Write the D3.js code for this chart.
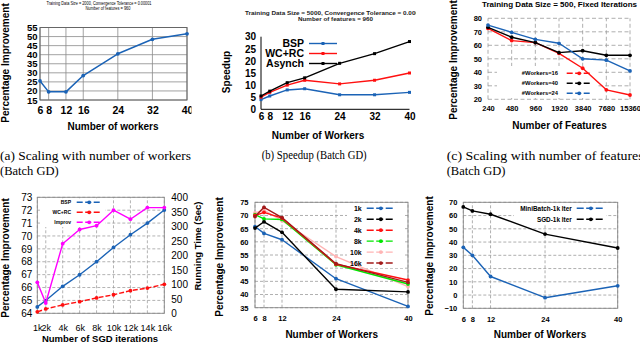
<!DOCTYPE html>
<html><head><meta charset="utf-8">
<script src="https://cdn.jsdelivr.net/npm/d3@7"></script>
<style>
html,body{margin:0;padding:0;background:#fff;}
svg{display:block;}
</style></head><body>
<svg id="c" width="640" height="342"></svg>
<script>
// ---------------- DATA ----------------
// (a) Scaling with number of workers
const workersA = [6, 8, 12, 16, 24, 32, 40];
const improvementA = [25.5, 19.5, 19.5, 28.5, 40.5, 48.5, 51.5];
const yTicksA = [15, 20, 25, 30, 35, 40, 45, 50, 55];

// (b) Speedup
const workersB = [6, 8, 12, 16, 24, 32, 40];
const speedupBSP = [4, 5.5, 8, 8.5, 6, 6, 7];
const speedupWCRC = [5, 7, 10, 12, 10.5, 12, 15];
const speedupAsynch = [5.5, 7.5, 11, 13, 19, 23, 28];
const yTicksB = [0, 5, 10, 15, 20, 25, 30];

// (c) Scaling with number of features
const featuresC = [240, 480, 960, 1920, 3840, 7680, 15360];
const improvW16 = [72.5, 63.5, 62, 54, 43, 27, 23.2];
const improvW40 = [73.3, 66, 62, 54.6, 56, 52.6, 52.6];
const improvW24 = [75, 69.6, 64.4, 61.5, 50, 49, 41];
const yTicksC = [20, 30, 40, 50, 60, 70, 80];

// (d) SGD iterations
const itersD = [1, 2, 4, 6, 8, 10, 12, 14, 16];
const iterLabelsD = ["1k", "2k", "4k", "6k", "8k", "10k", "12k", "14k", "16k"];
const timeBSP = [22, 44, 93, 133, 178, 227, 271, 311, 356];
const timeWCRC = [5, 15, 29, 40, 53, 64, 78, 87, 100];
const improvD = [66.4, 64.8, 69.4, 70.5, 70.8, 72.0, 71.3, 72.2, 72.2];
const yTicksDLeft = [64, 65, 66, 67, 68, 69, 70, 71, 72, 73];
const yTicksDRight = [0, 50, 100, 150, 200, 250, 300, 350, 400];

// (e) Percentage improvement by iterations
const workersE = [6, 8, 12, 24, 40];
const impE1k = [65.8, 63.2, 60.8, 46, 35.5];
const impE2k = [65.2, 67.6, 63.6, 42, 41];
const impE4k = [70, 71.2, 69, 51.5, 45.5];
const impE8k = [70.3, 68.7, 68.5, 51.3, 44];
const impE10k = [71, 72, 68, 54.4, 43];
const impE16k = [69.6, 73.1, 69.2, 51.7, 44.6];
const seriesLabelsE = ["1k", "2k", "4k", "8k", "10k", "16k"];
const yTicksE = [35, 40, 45, 50, 55, 60, 65, 70, 75];

// (f) MiniBatch vs SGD
const workersF = [6, 8, 12, 24, 40];
const miniBatchF = [36, 30, 14, -2, 7];
const sgdF = [66.5, 63.5, 61, 46, 35.5];
const yTicksF = [-10, 0, 10, 20, 30, 40, 50, 60, 70];

// ---------------- HELPERS ----------------
const SANS = "'Liberation Sans', Arial, Helvetica, sans-serif";
const SERIF = "'Liberation Serif', 'Times New Roman', serif";
const BLUE = "#1b63b6", RED = "#ff1010", BLACK = "#000", MAG = "#ff00ff",
      GREEN = "#00e600", PINK = "#ffb4b4", DRED = "#a31a1a";

const svg = d3.select("#c");
svg.append("rect").attr("width", 640).attr("height", 342).attr("fill", "#fff");
const defs = svg.append("defs");
function clip(id, x, y, w, h) {
  defs.append("clipPath").attr("id", id).append("rect")
    .attr("x", x).attr("y", y).attr("width", w).attr("height", h);
}

function styleAxis(g, size, weight) {
  g.select(".domain").remove();
  g.selectAll(".tick line").remove();
  g.attr("font-family", null).attr("font-size", null);
  g.selectAll("text").attr("font-family", SANS).attr("font-size", size)
    .attr("font-weight", weight).attr("fill", "#000");
}
function axisL(p, y, x0, vals, pad, size, weight, fmt) {
  const g = p.append("g").attr("transform", `translate(${x0},0)`)
    .call(d3.axisLeft(y).tickValues(vals).tickSize(0).tickPadding(pad).tickFormat(fmt || d3.format("d")));
  styleAxis(g, size, weight); return g;
}
function axisR(p, y, x0, vals, pad, size, weight, fmt) {
  const g = p.append("g").attr("transform", `translate(${x0},0)`)
    .call(d3.axisRight(y).tickValues(vals).tickSize(0).tickPadding(pad).tickFormat(fmt || d3.format("d")));
  styleAxis(g, size, weight); return g;
}
function axisB(p, x, y0, vals, pad, size, weight, fmt) {
  const g = p.append("g").attr("transform", `translate(0,${y0})`)
    .call(d3.axisBottom(x).tickValues(vals).tickSize(0).tickPadding(pad).tickFormat(fmt || d3.format("d")));
  styleAxis(g, size, weight); return g;
}
function grid(p, x, y, xv, yv, stroke, dash, w) {
  const xr = x.range(), yr = y.range();
  const g = p.append("g").attr("stroke", stroke).attr("stroke-width", w)
    .attr("stroke-dasharray", dash || null).attr("fill", "none");
  g.selectAll("line.v").data(xv).join("line").attr("class", "v")
    .attr("x1", d => x(d)).attr("x2", d => x(d)).attr("y1", yr[0]).attr("y2", yr[1]);
  g.selectAll("line.h").data(yv).join("line").attr("class", "h")
    .attr("y1", d => y(d)).attr("y2", d => y(d)).attr("x1", xr[0]).attr("x2", xr[1]);
}
function frame(p, x, y, stroke, w) {
  const xr = x.range(), yr = y.range();
  p.append("rect").attr("x", xr[0]).attr("y", yr[1]).attr("width", xr[1] - xr[0])
    .attr("height", yr[0] - yr[1]).attr("fill", "none").attr("stroke", stroke).attr("stroke-width", w);
}
function series(p, x, y, xs, ys, color, opt) {
  opt = opt || {};
  const pts = xs.map((d, i) => [x(d), y(ys[i])]);
  p.append("path").attr("d", d3.line()(pts)).attr("fill", "none").attr("stroke", color)
    .attr("stroke-width", opt.w || 1.4).attr("stroke-dasharray", opt.dash || null)
    .attr("stroke-linejoin", "round");
  if (opt.square) {
    p.append("g").selectAll("rect").data(pts).join("rect")
      .attr("x", d => d[0] - 1.5).attr("y", d => d[1] - 1.5).attr("width", 3).attr("height", 3).attr("fill", color);
  } else {
    p.append("g").selectAll("circle").data(pts).join("circle")
      .attr("cx", d => d[0]).attr("cy", d => d[1]).attr("r", opt.r || 1.9).attr("fill", color);
  }
}
function txt(p, x, y, s, size, weight, opt) {
  opt = opt || {};
  const t = p.append("text").attr("x", x).attr("y", y).text(s)
    .attr("font-family", opt.family || SANS).attr("font-size", size)
    .attr("font-weight", weight).attr("fill", opt.fill || "#000")
    .attr("text-anchor", opt.anchor || "start");
  if (opt.rot) t.attr("transform", `rotate(${opt.rot},${x},${y})`);
  if (opt.len) t.attr("textLength", opt.len).attr("lengthAdjust", "spacingAndGlyphs");
  return t;
}
function legendItem(p, tx, lx0, lx1, yc, label, color, size, dash, square) {
  txt(p, tx, yc + size * 0.36, label, size, "bold", { anchor: "end" });
  p.append("line").attr("x1", lx0).attr("x2", lx1).attr("y1", yc).attr("y2", yc)
    .attr("stroke", color).attr("stroke-width", 1.4).attr("stroke-dasharray", dash || null);
  const mx = (lx0 + lx1) / 2;
  if (square) p.append("rect").attr("x", mx - 1.5).attr("y", yc - 1.5).attr("width", 3).attr("height", 3).attr("fill", color);
  else p.append("circle").attr("cx", mx).attr("cy", yc).attr("r", 1.9).attr("fill", color);
}

// ---------------- (a) ----------------
clip("clipA", 0, 0, 191.5, 135);
{
  const p = svg.append("g").attr("clip-path", "url(#clipA)");
  const x = d3.scaleLinear().domain([6, 40]).range([40, 187]);
  const y = d3.scaleLinear().domain([15, 55]).range([100, 27.5]);
  grid(p, x, y, workersA, yTicksA, "#8a8a8a", null, 0.8);
  frame(p, x, y, "#666", 1);
  series(p, x, y, workersA, improvementA, BLUE, { w: 1.5 });
  axisL(p, y, 40, yTicksA, 2.5, 9.5, "bold");
  axisB(p, x, 100, workersA, 6.5, 10.5, "bold");
  txt(p, 99, 4.8, "Training Data Size = 2000, Convergence Tolerance = 0.00001", 4.6, "normal", { anchor: "middle", len: 105 });
  txt(p, 108, 9.6, "Number of features = 960", 4.6, "normal", { anchor: "middle", len: 45 });
  txt(p, 113, 129.5, "Number of workers", 10, "bold", { anchor: "middle" });
}
txt(svg, 8.8, 63, "Percentage Improvement", 10, "bold", { anchor: "middle", rot: -90 });
txt(svg, 0, 159.5, "(a) Scaling with number of workers", 12.5, "normal", { family: SERIF, len: 191 });
txt(svg, 0, 175, "(Batch GD)", 12.5, "normal", { family: SERIF });

// ---------------- (b) ----------------
clip("clipB", 210, 0, 206, 145);
{
  const p = svg.append("g");
  const x = d3.scaleLinear().domain([6, 40]).range([261, 409.5]);
  const y = d3.scaleLinear().domain([0, 30]).range([109.3, 36.7]);
  p.append("line").attr("x1", 261).attr("x2", 261).attr("y1", y(30)).attr("y2", y(0)).attr("stroke", "#000").attr("stroke-width", 1);
  p.append("line").attr("x1", 261).attr("x2", 409.5).attr("y1", y(0)).attr("y2", y(0)).attr("stroke", "#000").attr("stroke-width", 1);
  series(p, x, y, workersB, speedupBSP, BLUE, { square: true });
  series(p, x, y, workersB, speedupWCRC, RED, { square: true });
  series(p, x, y, workersB, speedupAsynch, BLACK, { square: true });
  axisL(p, y, 261, yTicksB, 5, 10, "bold");
  axisB(p, x, 109.3, workersB, 4, 10, "bold");
  legendItem(p, 304, 309, 337, 43.5, "BSP", BLUE, 10.5, null, true);
  legendItem(p, 304, 309, 337, 53.5, "WC+RC", RED, 10.5, null, true);
  legendItem(p, 304, 309, 337, 63.5, "Asynch", BLACK, 10.5, null, true);
  const t = svg.append("g").attr("clip-path", "url(#clipB)");
  txt(t, 335.5, 14.5, "Training Data Size = 5000, Convergence Tolerance = 0.00001", 5.8, "bold", { anchor: "middle", len: 181, fill: "#222" });
  txt(t, 335.5, 20.5, "Number of features = 960", 5.8, "bold", { anchor: "middle", len: 75, fill: "#222" });
  txt(p, 229.5, 72, "Speedup", 10, "bold", { anchor: "middle", rot: -90 });
  txt(p, 318, 139, "Number of Workers", 10, "bold", { anchor: "middle" });
}
txt(svg, 261.7, 158.5, "(b) Speedup (Batch GD)", 12.5, "normal", { family: SERIF, len: 105 });

// ---------------- (c) ----------------
{
  const p = svg.append("g");
  const x = d3.scaleLog().base(2).domain([240, 15360]).range([488, 630]);
  const y = d3.scaleLinear().domain([20, 80]).range([99.3, 18.3]);
  grid(p, x, y, featuresC, yTicksC, "#9a9a9a", "4,2.5", 0.8);
  p.append("rect").attr("x", 497).attr("y", 66).attr("width", 99).attr("height", 32).attr("fill", "#fff");
  series(p, x, y, featuresC, improvW16, RED);
  series(p, x, y, featuresC, improvW40, BLACK);
  series(p, x, y, featuresC, improvW24, BLUE);
  axisL(p, y, 488, yTicksC, 6, 7.5, "bold");
  axisB(p, x, 99.3, featuresC, 6.5, 7.5, "bold");
  legendItem(p, 558, 566.7, 591.7, 73.3, "#Workers=16", RED, 5.8, "6,2.5");
  legendItem(p, 558, 566.7, 591.7, 83.3, "#Workers=40", BLACK, 5.8, "6,2.5");
  legendItem(p, 558, 566.7, 591.7, 93.3, "#Workers=24", BLUE, 5.8, "6,2.5");
  txt(p, 482, 6.5, "Training Data Size = 500, Fixed Iterations", 7, "bold", { len: 155 });
  txt(p, 456.5, 60, "Percentage Improvement", 10, "bold", { anchor: "middle", rot: -90 });
  txt(p, 559.5, 129, "Number of Features", 10, "bold", { anchor: "middle" });
}
txt(svg, 446.7, 159.5, "(c) Scaling with number of features", 12.5, "normal", { family: SERIF, len: 197 });
txt(svg, 446.7, 175, "(Batch GD)", 12.5, "normal", { family: SERIF });

// ---------------- (d) ----------------
{
  const p = svg.append("g");
  const x = d3.scaleLinear().domain([1, 16]).range([37.3, 164.3]);
  const y = d3.scaleLinear().domain([64, 73]).range([313.3, 197.3]);
  const y2 = d3.scaleLinear().domain([0, 400]).range([313.3, 197.3]);
  grid(p, x, y, itersD, yTicksDLeft, "#a0a0a0", "3,2", 0.8);
  p.append("rect").attr("x", 40).attr("y", 199).attr("width", 65).attr("height", 28).attr("fill", "#fff");
  frame(p, x, y, "#888", 0.9);
  series(p, x, y2, itersD, timeWCRC, RED, { dash: "5,2" });
  series(p, x, y2, itersD, timeBSP, BLUE);
  series(p, x, y, itersD, improvD, MAG);
  axisL(p, y, 37.3, yTicksDLeft, 5, 10, "normal");
  axisR(p, y2, 164.3, yTicksDRight, 7, 10, "normal");
  axisB(p, x, 313.3, itersD, 11, 9, "normal", (d, i) => iterLabelsD[i]);
  legendItem(p, 71, 76.7, 101.7, 202.3, "BSP", BLUE, 5, "6,2.5");
  legendItem(p, 71, 76.7, 101.7, 212.3, "WC+RC", RED, 5, "6,2.5");
  legendItem(p, 71, 76.7, 101.7, 222.3, "Improv", MAG, 5, "6,2.5");
  txt(p, 8.5, 258, "Percentage Improvement", 10, "bold", { anchor: "middle", rot: -90 });
  txt(p, 200.5, 246, "Running Time (Sec)", 9.5, "bold", { anchor: "middle", rot: -90 });
  txt(p, 100, 341.5, "Number of SGD iterations", 9.5, "bold", { anchor: "middle" });
}

// ---------------- (e) ----------------
{
  const p = svg.append("g");
  const x = d3.scaleLinear().domain([6, 40]).range([255, 408]);
  const y = d3.scaleLinear().domain([35, 75]).range([307.7, 202.3]);
  grid(p, x, y, workersE, yTicksE, "#9a9a9a", "3,2", 0.8);
  p.append("rect").attr("x", 347).attr("y", 203).attr("width", 56).attr("height", 65).attr("fill", "#fff");
  frame(p, x, y, "#888", 0.9);
  const sE = [impE1k, impE2k, impE4k, impE8k, impE10k, impE16k];
  const cE = [BLUE, BLACK, RED, GREEN, PINK, DRED];
  [4, 3, 2, 0, 1, 5].forEach(i => series(p, x, y, workersE, sE[i], cE[i]));
  axisL(p, y, 255, yTicksE, 6.5, 7.5, "bold");
  axisB(p, x, 307.7, workersE, 8, 7.5, "bold");
  seriesLabelsE.forEach((lab, i) => legendItem(p, 361.7, 366.7, 395, 208.3 + i * 10.95, lab, cE[i], 7, "7,2.5"));
  txt(p, 223, 257, "Percentage Improvement", 10, "bold", { anchor: "middle", rot: -90 });
  txt(p, 331.7, 338, "Number of Workers", 10, "bold", { anchor: "middle" });
}

// ---------------- (f) ----------------
{
  const p = svg.append("g");
  const x = d3.scaleLinear().domain([6, 40]).range([463.3, 617.7]);
  const y = d3.scaleLinear().domain([-10, 70]).range([308.3, 202.3]);
  grid(p, x, y, workersF, yTicksF, "#9a9a9a", "3,2", 0.8);
  p.append("rect").attr("x", 514).attr("y", 203).attr("width", 92).attr("height", 22).attr("fill", "#fff");
  frame(p, x, y, "#888", 0.9);
  series(p, x, y, workersF, miniBatchF, BLUE);
  series(p, x, y, workersF, sgdF, BLACK);
  axisL(p, y, 463.3, yTicksF, 6, 7.5, "bold");
  axisB(p, x, 308.3, workersF, 8, 7.5, "bold");
  legendItem(p, 571.7, 576.7, 605, 208.3, "MiniBatch-1k Iter", BLUE, 6.4, "7,2.5");
  legendItem(p, 571.7, 576.7, 605, 219.3, "SGD-1k Iter", BLACK, 6.4, "7,2.5");
  txt(p, 433, 256, "Percentage Improvement", 10, "bold", { anchor: "middle", rot: -90 });
  txt(p, 540, 338, "Number of Workers", 10, "bold", { anchor: "middle" });
}
</script>
</body></html>
